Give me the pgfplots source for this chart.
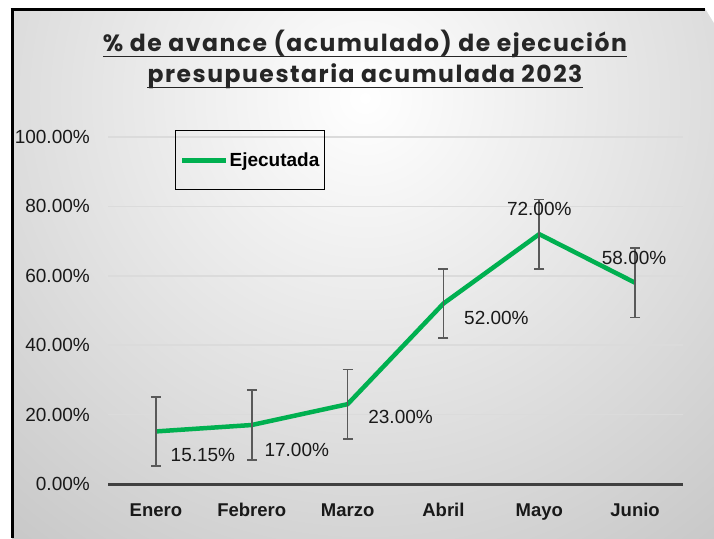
\documentclass[border=0pt]{standalone}
\usepackage{pgfplots}
\pgfplotsset{compat=1.18}
\usepackage{fontspec}
\setmainfont{Liberation Sans}
\newfontfamily\titlefont{Poppins}[LetterSpace=6.5]
\definecolor{lgreen}{HTML}{00B050}
\definecolor{ebar}{HTML}{595959}
\definecolor{zline}{HTML}{404040}
\begin{document}
\begin{tikzpicture}[x=1pt,y=1pt]
\useasboundingbox (0,0) rectangle (714,538);
\fill[white] (0,0) rectangle (714,538);
\begin{scope}
\clip (12,0) rectangle (714,528);
\shade[inner color=white, outer color=black!38] (365,440) circle (1000pt);
\end{scope}
\fill[white] (700,538) -- (714,538) -- (714,515) -- cycle;
\draw[black, line width=3pt] (10.5,528) -- (705,528);
\draw[black, line width=3pt] (12,0) -- (12,529.5);
\node[font=\titlefont\bfseries\fontsize{23.5}{27}\selectfont, text=black!85, inner sep=0pt, anchor=base] (t1) at (365,486) {\% de avance (acumulado) de ejecución};
\node[font=\titlefont\bfseries\fontsize{23.5}{27}\selectfont, text=black!85, inner sep=0pt, anchor=base] (t2) at (365,455) {presupuestaria acumulada 2023};
\draw[line width=1.8pt, black!85] ([yshift=-4.5pt]t1.base west) -- ([yshift=-4.5pt]t1.base east);
\draw[line width=1.8pt, black!85] ([yshift=-4.5pt]t2.base west) -- ([yshift=-4.5pt]t2.base east);
\begin{axis}[
  at={(108pt,54pt)}, anchor=south west, scale only axis,
  width=575pt, height=347pt,
  xmin=-0.5, xmax=5.5, ymin=0, ymax=100,
  axis line style={draw=none},
  major tick length=0pt,
  xtick={0,1,2,3,4,5},
  xticklabels={Enero,Febrero,Marzo,Abril,Mayo,Junio},
  xticklabel style={font=\bfseries\fontsize{18.5}{22}\selectfont, text=black!90, inner sep=0pt, anchor=base, yshift=-32pt},
  ytick={0,20,40,60,80,100},
  yticklabel={\pgfmathprintnumber[fixed,fixed zerofill,precision=2,assume math mode=true]{\tick}\%},
  yticklabel style={font=\fontsize{19}{22}\selectfont, text=black!90, inner sep=0pt, anchor=east, xshift=-18pt},
  ymajorgrids,
  grid style={color=black!14, line width=1.5pt},
  extra y ticks={0},
  extra y tick labels={},
  extra y tick style={grid style={color=zline, line width=3pt}},
  legend style={at={(0.1165,1.0202)}, anchor=north west, draw=black, line width=1.2pt, fill=none,
    inner xsep=4pt, inner ysep=21pt, font=\bfseries\fontsize{19}{22}\selectfont,
    nodes={inner sep=1pt}},
  legend image code/.code={\draw[lgreen, line width=5pt] (0pt,0pt) -- (44pt,0pt);},
  clip=false,
]
\addplot[lgreen, line width=4.5pt, line join=round, mark=none,
  error bars/.cd, y dir=both, y fixed=10,
  error bar style={ebar, line width=1.8pt},
  error mark options={ebar, rotate=90, mark size=5pt, line width=1.8pt}]
  coordinates {(0,15.15) (1,17) (2,23) (3,52) (4,72) (5,58)};
\addlegendentry{Ejecutada}
\addplot[draw=none, mark=none,
  point meta=explicit,
  visualization depends on={value \thisrow{dx} \as \dx},
  visualization depends on={value \thisrow{dy} \as \dy},
  nodes near coords={\pgfmathprintnumber[fixed,fixed zerofill,precision=2,assume math mode=true]{\pgfplotspointmeta}\%},
  nodes near coords style={font=\fontsize{19}{22}\selectfont, anchor=center, inner sep=0pt, xshift=\dx pt, yshift=\dy pt, text=black!90}]
  table[meta=v] {
x y v dx dy
0 15.15 15.15 47 -24
1 17 17 45 -25
2 23 23 53 -13
3 52 52 53 -14
4 72 72 0 25
5 58 58 -1 25
};
\end{axis}
\end{tikzpicture}
\end{document}
